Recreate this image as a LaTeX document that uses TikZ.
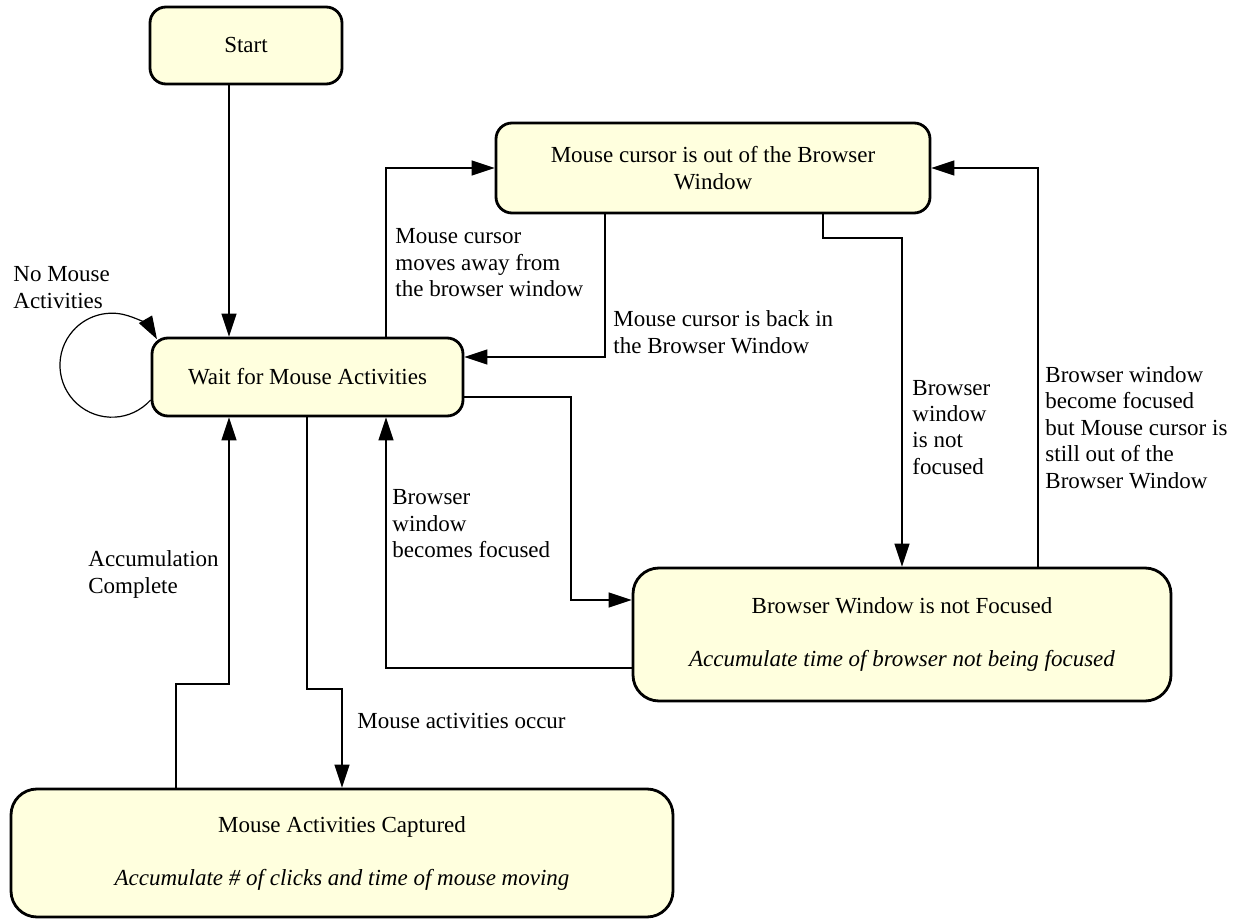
\documentclass[tikz,border=0pt]{standalone}
\usepackage{fontspec}
\setmainfont{Liberation Serif}
\usetikzlibrary{positioning,arrows.meta,calc}
\definecolor{stateyellow}{RGB}{255,255,222}

\tikzset{
  state/.style={draw, line width=1.4pt, rounded corners=8pt, fill=stateyellow,
    align=center, inner sep=0pt, font=\fontsize{11.5}{13.25}\selectfont},
  bigstate/.style={state, rounded corners=13pt},
  arr/.style={-{Triangle[length=11.5pt,width=7.5pt]}, line width=0.6pt},
  % anchored at the baseline of the last line
  lbl/.style={align=left, anchor=base west, inner sep=0pt,
    font=\fontsize{11.5}{13.25}\selectfont},
}

\begin{document}
\begin{tikzpicture}[x=0.5pt,y=-0.5pt]
\useasboundingbox (0,0) rectangle (1248,919);

% states
\node[state, minimum width=96pt, minimum height=38.5pt] (start) at (246,45.5) {Start};
\node[state, minimum width=155.5pt, minimum height=39pt] (wait) at (307.5,377) {Wait for Mouse Activities};
\node[state, minimum width=217pt, minimum height=45pt] (out) at (713,168)
  {Mouse cursor is out of the Browser\\Window};
\node[bigstate, minimum width=269pt, minimum height=66.5pt] (unfocused) at (902,634.5)
  {Browser Window is not Focused\\[13.25pt]\textit{Accumulate time of browser not being focused}};
\node[bigstate, minimum width=331pt, minimum height=64pt] (captured) at (342,853)
  {Mouse Activities Captured\\[13.25pt]\textit{Accumulate \# of clicks and time of mouse moving}};

% bend points
\coordinate (k1) at (229,0);
\coordinate (k2) at (386,0);
\coordinate (k3) at (605,357);
\coordinate (k4) at (823,238);
\coordinate (k5) at (1038,0);
\coordinate (k6) at (571,397);
\coordinate (k7) at (571,600);
\coordinate (k8) at (386,668);
\coordinate (k9) at (307,689);
\coordinate (k10) at (176,684);
\coordinate (k11) at (229,684);

% transitions
\draw[arr] (start.south -| k1) -- (wait.north -| k1);
\draw[arr] ([yshift=-11.5pt]wait.west) arc[start angle=-42, end angle=-330, radius=26pt];
\draw[arr] (wait.north -| k2) |- (out.west);
\draw[arr] (out.south -| k3) |- (wait.east |- k3);
\draw[arr] (out.south -| k4) -- (k4) -| (unfocused.north);
\draw[arr] (unfocused.north -| k5) |- (out.east);
\draw[arr] (wait.east |- k6) -- (k6) -- (k7) -- (unfocused.west |- k7);
\draw[arr] (unfocused.west |- k8) -- (k8) -- (wait.south -| k8);
\draw[arr] (wait.south -| k9) -- (k9) -| (captured.north);
\draw[arr] (captured.north -| k10) -- (k10) -- (k11) -- (wait.south -| k11);

% labels
\node[lbl] (l1) at (13,308.5) {No Mouse\\Activities};
\node[lbl] (l2) at (395,297) {Mouse cursor\\moves away from\\the browser window};
\node[lbl] (l3) at (613,353.5) {Mouse cursor is back in\\the Browser Window};
\node[lbl] (l4) at (912,474.5) {Browser\\window\\is not\\focused};
\node[lbl] (l5) at (1045,488) {Browser window\\become focused\\but Mouse cursor is\\still out of the\\Browser Window};
\node[lbl] (l6) at (392,558) {Browser\\window\\becomes focused};
\node[lbl] (l7) at (88,593) {Accumulation\\Complete};
\node[lbl] (l8) at (357,728) {Mouse activities occur};
\end{tikzpicture}
\end{document}
